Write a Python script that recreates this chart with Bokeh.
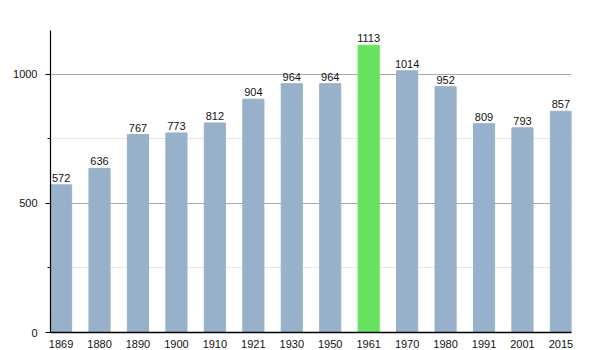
from bokeh.plotting import figure
from bokeh.models import ColumnDataSource, FixedTicker, Range1d, LabelSet
from bokeh.core.properties import value
from bokeh.embed import file_html
from bokeh.resources import INLINE

years = ["1869", "1880", "1890", "1900", "1910", "1921", "1930", "1950", "1961", "1970", "1980", "1991", "2001", "2015"]
population = [572, 636, 767, 773, 812, 904, 964, 964, 1113, 1014, 952, 809, 793, 857]
highlight_year = "1961"

BLUE = "#97b1cb"
GREEN = "#66e25f"
FONT = "Liberation Sans"

xs = list(range(len(years)))
colors = [GREEN if y == highlight_year else BLUE for y in years]
src = ColumnDataSource(dict(x=xs, top=population, color=colors, label=[str(v) for v in population]))

p = figure(width=600, height=350, output_backend="svg", toolbar_location=None,
           x_range=Range1d(-0.275, len(years) - 1 + 0.275), y_range=Range1d(0, 1170),
           min_border_left=50, min_border_right=29, min_border_top=30, min_border_bottom=18)
p.outline_line_color = None
p.background_fill_color = "white"
p.border_fill_color = "white"

p.vbar(x="x", top="top", width=0.55, color="color", source=src)

labels = LabelSet(x="x", y="top", text="label", source=src, text_align="center",
                  text_baseline="bottom", y_offset=3, text_font=value(FONT),
                  text_font_size=value("11px"), text_color=value("#111111"))
p.add_layout(labels)

# x axis
p.xaxis.ticker = FixedTicker(ticks=xs)
p.xaxis.major_label_overrides = {i: y for i, y in enumerate(years)}
p.xaxis.major_tick_line_color = None
p.xaxis.minor_tick_line_color = None
p.xaxis.axis_line_color = "black"
p.xaxis.axis_line_width = 1.5
p.xaxis.major_label_standoff = 1
p.xaxis.major_label_text_font = FONT
p.xaxis.major_label_text_font_size = "11px"
p.xaxis.major_label_text_color = "#111111"
p.xgrid.grid_line_color = None

# y axis
p.yaxis.ticker = FixedTicker(ticks=[0, 500, 1000], minor_ticks=[250, 750])
p.yaxis.axis_line_color = "black"
p.yaxis.axis_line_width = 1.2
p.yaxis.major_tick_out = 5
p.yaxis.major_tick_in = 0
p.yaxis.minor_tick_out = 3
p.yaxis.minor_tick_in = 0
p.yaxis.major_tick_line_color = "black"
p.yaxis.minor_tick_line_color = "black"
p.yaxis.major_label_standoff = 8
p.yaxis.major_label_text_font = FONT
p.yaxis.major_label_text_font_size = "11px"
p.yaxis.major_label_text_color = "#111111"
p.ygrid.grid_line_color = "#aaaaaa"
p.ygrid.minor_grid_line_color = "#e6e6e6"

open("out.html", "w").write(file_html(p, INLINE))
